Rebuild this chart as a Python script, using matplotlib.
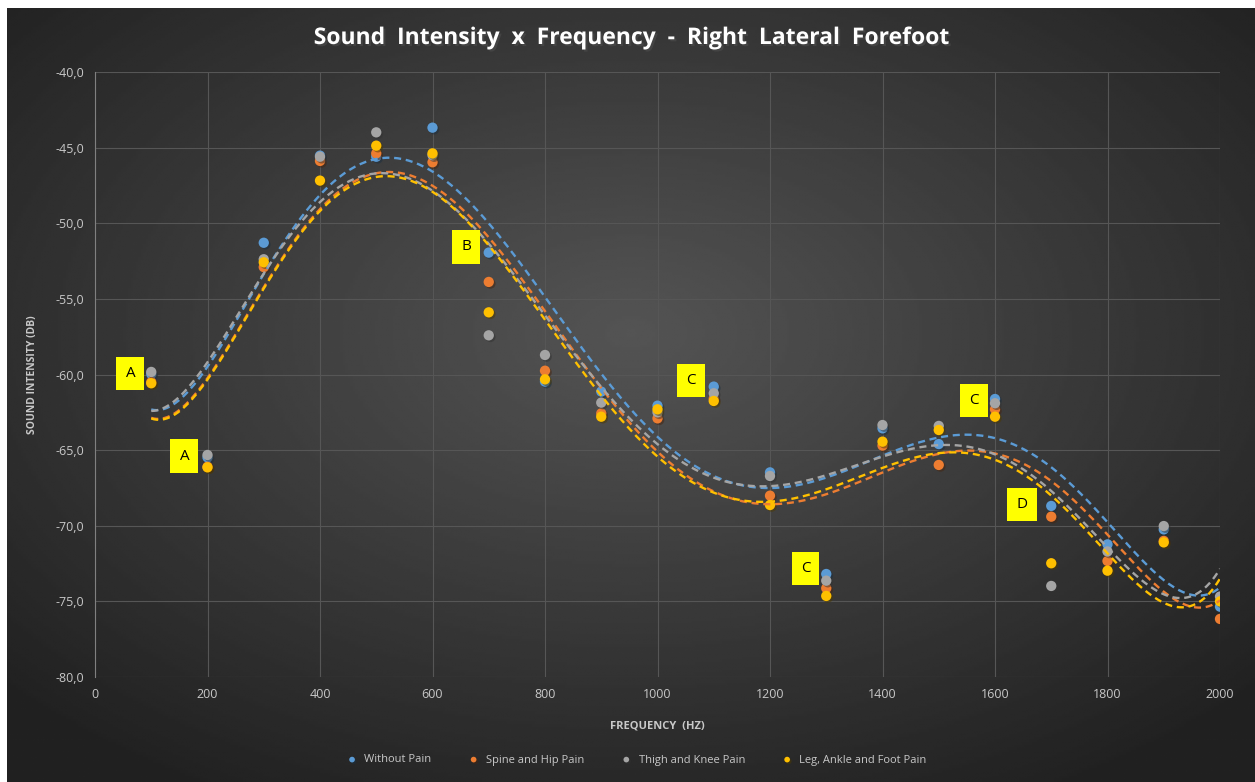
import numpy as np
import matplotlib
matplotlib.use("Agg")
import matplotlib.pyplot as plt
import matplotlib.patheffects as pe

plt.rcParams.update({"font.family": ["Open Sans", "DejaVu Sans"]})

# ---- data ----
freq = [100, 200, 300, 400, 500, 600, 700, 800, 900, 1000,
        1100, 1200, 1300, 1400, 1500, 1600, 1700, 1800, 1900, 2000]
without_pain = [-59.97, -65.48, -51.29, -45.53, -45.60, -43.68, -51.94, -60.47, -61.13, -62.06,
                -60.80, -66.47, -73.19, -63.56, -64.60, -61.62, -68.69, -71.23, -70.24, -75.35]
spine_hip = [-60.50, -66.10, -52.90, -45.88, -45.38, -45.97, -53.88, -59.75, -62.57, -62.90,
             -61.60, -68.01, -74.13, -64.70, -65.98, -62.30, -69.40, -72.33, -71.00, -76.16]
thigh_knee = [-59.83, -65.32, -52.38, -45.60, -43.99, -45.50, -57.41, -58.71, -61.86, -62.50,
              -61.24, -66.71, -73.63, -63.34, -63.40, -61.90, -73.98, -71.70, -70.02, -74.68]
leg_ankle_foot = [-60.58, -66.14, -52.58, -47.18, -44.87, -45.38, -55.89, -60.32, -62.79, -62.30,
                  -61.75, -68.63, -74.64, -64.44, -63.67, -62.79, -72.48, -72.97, -71.10, -75.00]

series = [("Without Pain", without_pain, "#5B9BD5"),
          ("Spine and Hip Pain", spine_hip, "#ED7D31"),
          ("Thigh and Knee Pain", thigh_knee, "#A5A5A5"),
          ("Leg, Ankle and Foot Pain", leg_ankle_foot, "#FFC000")]

# group labels (letter, x, y)
tags = [("A", 63, -59.93), ("A", 159, -65.39), ("B", 660, -51.57), ("C", 1059, -60.4),
        ("C", 1263, -72.83), ("C", 1563, -61.72), ("D", 1648, -68.6)]

W, H = 1255, 782
fig = plt.figure(figsize=(W / 100, H / 100), dpi=100, facecolor="white")

# dark radial-gradient chart background
bg = fig.add_axes([7 / W, 0, 1 - 7 / W, 1 - 8 / H])
yy, xx = np.mgrid[0:1:300j, 0:1:500j]
r = np.sqrt(((xx - 0.5) / 0.75) ** 2 + ((yy - 0.42) / 0.75) ** 2)
shade = np.clip(0.33 - 0.22 * r, 0.13, 0.33)
bg.imshow(shade, cmap="gray", vmin=0, vmax=1, aspect="auto", extent=[0, 1, 0, 1],
          interpolation="bilinear")
bg.set_axis_off()

ax = fig.add_axes([95 / W, 1 - 677 / H, 1125 / W, 605 / H])
ax.patch.set_alpha(0)
ax.set_xlim(0, 2000)
ax.set_ylim(-80, -40)
ax.set_xticks(range(0, 2001, 200))
ax.set_yticks(range(-80, -39, 5))
ax.set_yticklabels([f"{v:.1f}".replace(".", ",") for v in range(-80, -39, 5)])
ax.grid(True, color="#565656", lw=0.8)
ax.set_axisbelow(True)
for s in ["top", "right", "bottom"]:
    ax.spines[s].set_visible(False)
ax.spines["left"].set_color("#808080")
ax.tick_params(length=0, colors="#c8c8c8", labelsize=9, pad=8)

shadow = [pe.SimplePatchShadow(offset=(1.2, -1.2), alpha=0.5), pe.Normal()]
xs = np.linspace(min(freq), max(freq), 400)
for name, vals, col in series:
    ax.scatter(freq, vals, s=55, color=col, zorder=3, label=name, path_effects=shadow,
               linewidths=0)
    fit = np.polyval(np.polyfit(freq, vals, 6), xs)
    ax.plot(xs, fit, color=col, lw=1.7, ls=(0, (3, 2)), zorder=4)

for letter, x, y in tags:
    ax.text(x, y, letter, fontsize=11, color="black", ha="center", va="center", zorder=5,
            bbox=dict(boxstyle="square,pad=0.6", fc="#FFFF00", ec="none"))

ax.set_xlabel("FREQUENCY  (HZ)", color="#c8c8c8", fontsize=8, fontweight="bold", labelpad=14)
ax.set_ylabel("SOUND INTENSITY (DB)", color="#c8c8c8", fontsize=7.5, fontweight="bold", labelpad=12)

fig.text(0.503, 1 - 38 / H, "Sound  Intensity  x  Frequency  -  Right  Lateral  Forefoot",
         ha="center", va="center", color="white", fontsize=16.5, fontweight="bold",
         path_effects=[pe.withSimplePatchShadow(offset=(1.5, -1.5), alpha=0.6)])

fig.legend(loc="center", bbox_to_anchor=(0.505, 1 - 760 / H), ncol=4, frameon=False,
           fontsize=8, labelcolor="#c8c8c8", handletextpad=0.1, columnspacing=2.8,
           markerscale=0.55)

fig.savefig("out.png", dpi=100, facecolor="white")
